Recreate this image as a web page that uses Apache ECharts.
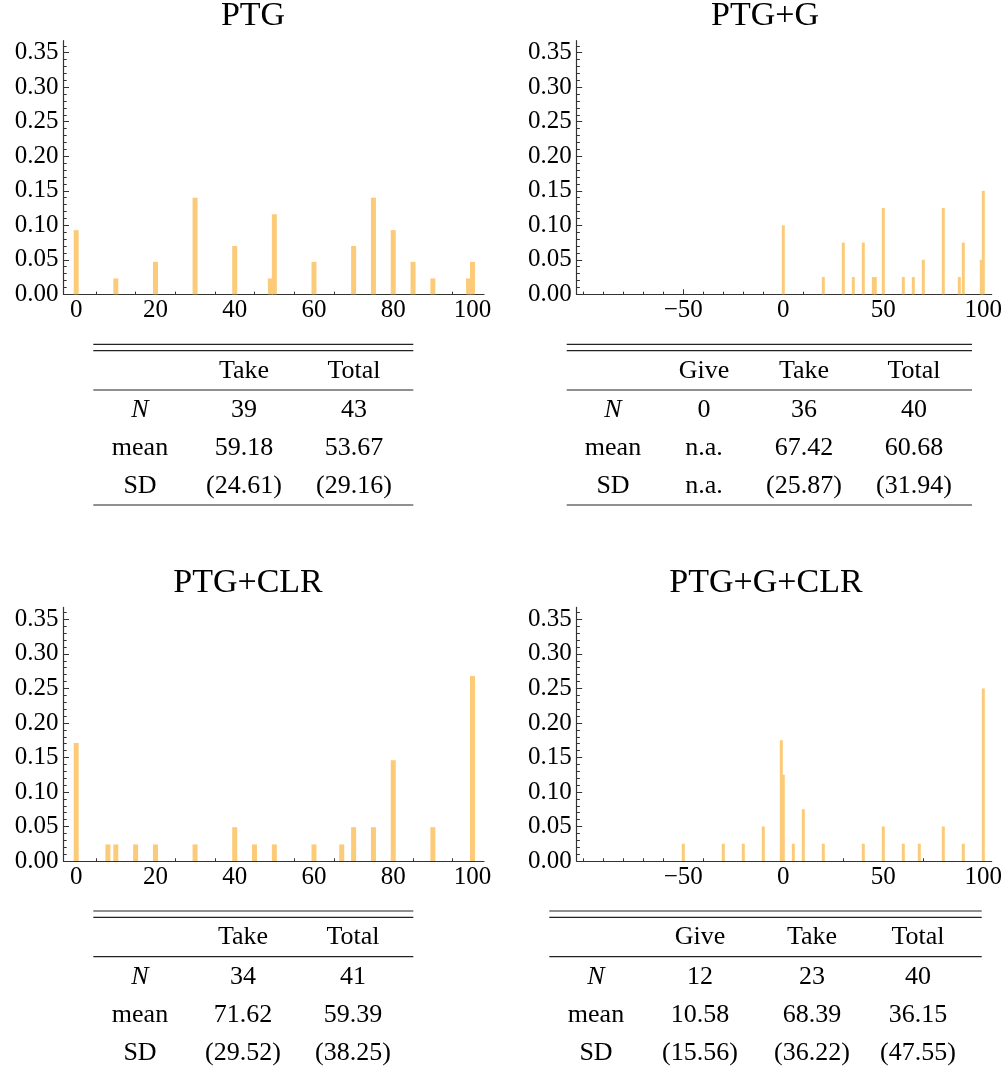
<!DOCTYPE html>
<html><head><meta charset="utf-8">
<script src="https://cdn.jsdelivr.net/npm/echarts@6/dist/echarts.min.js"></script>
<style>html,body{margin:0;padding:0;background:#fff}#c{width:1007px;height:1072px}</style>
</head><body><div id="c"></div>
<script>
// ---------------- DATA ----------------
const titles = ['PTG', 'PTG+G', 'PTG+CLR', 'PTG+G+CLR'];

// PTG
const ptgX = [0, 10, 20, 30, 40, 49, 50, 60, 70, 75, 80, 85, 90, 99, 100];
const ptgY = [0.093, 0.023, 0.047, 0.140, 0.070, 0.023, 0.116, 0.047, 0.070, 0.140, 0.093, 0.047, 0.023, 0.023, 0.047];
// PTG+G
const ptggX = [0, 20, 30, 35, 40, 45, 46, 50, 60, 65, 70, 80, 88, 90, 99, 100];
const ptggY = [0.100, 0.025, 0.075, 0.025, 0.075, 0.025, 0.025, 0.125, 0.025, 0.025, 0.050, 0.125, 0.025, 0.075, 0.050, 0.150];
// PTG+CLR
const clrX = [0, 8, 10, 15, 20, 30, 40, 45, 50, 60, 67, 70, 75, 80, 90, 100];
const clrY = [0.171, 0.024, 0.024, 0.024, 0.024, 0.024, 0.049, 0.024, 0.024, 0.024, 0.024, 0.049, 0.049, 0.146, 0.049, 0.268];
// PTG+G+CLR
const gclrX = [-50, -30, -20, -10, -1, 0, 5, 10, 20, 40, 50, 60, 68, 80, 90, 100];
const gclrY = [0.025, 0.025, 0.025, 0.050, 0.175, 0.125, 0.025, 0.075, 0.025, 0.025, 0.050, 0.025, 0.025, 0.050, 0.025, 0.250];

// ticks
const yTicks = [0, 0.05, 0.10, 0.15, 0.20, 0.25, 0.30, 0.35];
const yMinorTicks = [0.01, 0.02, 0.03, 0.04, 0.06, 0.07, 0.08, 0.09, 0.11, 0.12, 0.13, 0.14, 0.16, 0.17, 0.18, 0.19,
  0.21, 0.22, 0.23, 0.24, 0.26, 0.27, 0.28, 0.29, 0.31, 0.32, 0.33, 0.34, 0.36];
const xTicksA = [0, 20, 40, 60, 80, 100];
const xMinorA = [5, 10, 15, 25, 30, 35, 45, 50, 55, 65, 70, 75, 85, 90, 95];
const xTicksB = [-50, 0, 50, 100];
const xMinorB = [-100, -90, -80, -70, -60, -40, -30, -20, -10, 10, 20, 30, 40, 60, 70, 80, 90];

// tables
const rowLabels = ['N', 'mean', 'SD'];
const ptgHead = ['Take', 'Total'];
const ptgN = ['39', '43'];
const ptgMean = ['59.18', '53.67'];
const ptgSD = ['(24.61)', '(29.16)'];
const ptggHead = ['Give', 'Take', 'Total'];
const ptggN = ['0', '36', '40'];
const ptggMean = ['n.a.', '67.42', '60.68'];
const ptggSD = ['n.a.', '(25.87)', '(31.94)'];
const clrHead = ['Take', 'Total'];
const clrN = ['34', '41'];
const clrMean = ['71.62', '59.39'];
const clrSD = ['(29.52)', '(38.25)'];
const gclrHead = ['Give', 'Take', 'Total'];
const gclrN = ['12', '23', '40'];
const gclrMean = ['10.58', '68.39', '36.15'];
const gclrSD = ['(15.56)', '(36.22)', '(47.55)'];

// ---------------- LAYOUT ----------------
const FONT = '"Liberation Serif", "Times New Roman", serif';
const AXC = '#333';
const BAR = '#FCCB7A';
const Y_MAX = 0.3674;

const panels = [
  { xs: ptgX, ys: ptgY, grid: { left: 63.5, top: 40.7, width: 420.5, height: 253.6 }, xmin: -3.2, xmax: 102.9,
    maj: xTicksA, min: xMinorA, barW: 5, tx: 253, ty: 16.5,
    tab: { x0: 93.3, x1: 413.3, top: 344.3, label: 140, cols: [244, 354], head: ptgHead, N: ptgN, mean: ptgMean, sd: ptgSD } },
  { xs: ptggX, ys: ptggY, grid: { left: 576.7, top: 40.7, width: 415, height: 253.6 }, xmin: -103.3, xmax: 104.2,
    maj: xTicksB, min: xMinorB, barW: 3, tx: 765, ty: 16.5,
    tab: { x0: 566.7, x1: 972, top: 344.3, label: 613, cols: [704, 804, 914], head: ptggHead, N: ptggN, mean: ptggMean, sd: ptggSD } },
  { xs: clrX, ys: clrY, grid: { left: 63.5, top: 607.4, width: 420.5, height: 253.6 }, xmin: -3.2, xmax: 102.9,
    maj: xTicksA, min: xMinorA, barW: 5, tx: 248, ty: 583.5,
    tab: { x0: 93.3, x1: 413.3, top: 911, label: 140, cols: [243, 353], head: clrHead, N: clrN, mean: clrMean, sd: clrSD } },
  { xs: gclrX, ys: gclrY, grid: { left: 576.7, top: 607.4, width: 415, height: 253.6 }, xmin: -103.3, xmax: 104.2,
    maj: xTicksB, min: xMinorB, barW: 3, tx: 766, ty: 583.5,
    tab: { x0: 549.3, x1: 981.7, top: 911, label: 596, cols: [700, 812, 918], head: gclrHead, N: gclrN, mean: gclrMean, sd: gclrSD } }
];

const fmtX = v => (v < 0 ? '\u2212' + Math.abs(v) : String(v));

const grids = [], xAxes = [], yAxes = [], series = [], graphics = [];

panels.forEach((p, i) => {
  grids.push(Object.assign({ containLabel: false }, p.grid));
  xAxes.push({
    gridIndex: i, type: 'value', position: 'bottom', min: p.xmin, max: p.xmax,
    axisLine: { show: true, onZero: false, lineStyle: { color: AXC, width: 1.2 } },
    axisTick: { show: true, inside: true, length: 5, customValues: p.maj, lineStyle: { color: AXC, width: 1 } },
    axisLabel: { show: true, customValues: p.maj, formatter: fmtX, fontFamily: FONT, fontSize: 25, color: '#000', margin: 4 },
    splitLine: { show: false }
  });
  xAxes.push({
    gridIndex: i, type: 'value', position: 'bottom', min: p.xmin, max: p.xmax,
    axisLine: { show: false, onZero: false },
    axisTick: { show: true, inside: true, length: 2.7, customValues: p.min, lineStyle: { color: AXC, width: 1 } },
    axisLabel: { show: false }, splitLine: { show: false }
  });
  yAxes.push({
    gridIndex: i, type: 'value', position: 'left', min: 0, max: Y_MAX,
    axisLine: { show: true, onZero: false, lineStyle: { color: AXC, width: 1.2 } },
    axisTick: { show: true, inside: true, length: 5.5, customValues: yTicks, lineStyle: { color: AXC, width: 1 } },
    axisLabel: { show: true, customValues: yTicks, formatter: v => v.toFixed(2), fontFamily: FONT, fontSize: 25, color: '#000', margin: 5 },
    splitLine: { show: false }
  });
  yAxes.push({
    gridIndex: i, type: 'value', position: 'left', min: 0, max: Y_MAX,
    axisLine: { show: false, onZero: false },
    axisTick: { show: true, inside: true, length: 3.2, customValues: yMinorTicks, lineStyle: { color: AXC, width: 1 } },
    axisLabel: { show: false }, splitLine: { show: false }
  });
  series.push({
    type: 'bar', xAxisIndex: 2 * i, yAxisIndex: 2 * i,
    data: p.xs.map((x, k) => [x, p.ys[k]]),
    barWidth: p.barW, itemStyle: { color: BAR }, silent: true, animation: false
  });

  graphics.push({ type: 'text', x: p.tx, y: p.ty, style: { text: titles[i], font: '34px ' + FONT, fill: '#000', textAlign: 'center', textVerticalAlign: 'middle' } });

  const t = p.tab;
  const line = (y, w) => ({ type: 'line', shape: { x1: t.x0, y1: y, x2: t.x1, y2: y }, style: { stroke: '#222', lineWidth: w } });
  graphics.push(line(t.top, 1.2), line(t.top + 6.4, 1.2), line(t.top + 45.7, 1.2));
  if (t.top + 160.7 < 1068) graphics.push(line(t.top + 160.7, 1.2));
  const txt = (x, y, s, italic) => ({ type: 'text', x: x, y: y, style: { text: s, font: (italic ? 'italic ' : '') + '26px ' + FONT, fill: '#000', textAlign: 'center', textVerticalAlign: 'middle' } });
  t.head.forEach((h, k) => graphics.push(txt(t.cols[k], t.top + 26.4, h)));
  const rows = [t.N, t.mean, t.sd];
  const rowY = [65.7, 103.7, 141.7];
  rows.forEach((r, ri) => {
    graphics.push(txt(t.label, t.top + rowY[ri], rowLabels[ri], ri === 0));
    r.forEach((v, k) => graphics.push(txt(t.cols[k], t.top + rowY[ri], v)));
  });
});

const chart = echarts.init(document.getElementById('c'), null, { renderer: 'canvas' });
chart.setOption({
  animation: false,
  backgroundColor: '#fff',
  grid: grids, xAxis: xAxes, yAxis: yAxes, series: series,
  graphic: graphics
});
</script>
</body></html>
